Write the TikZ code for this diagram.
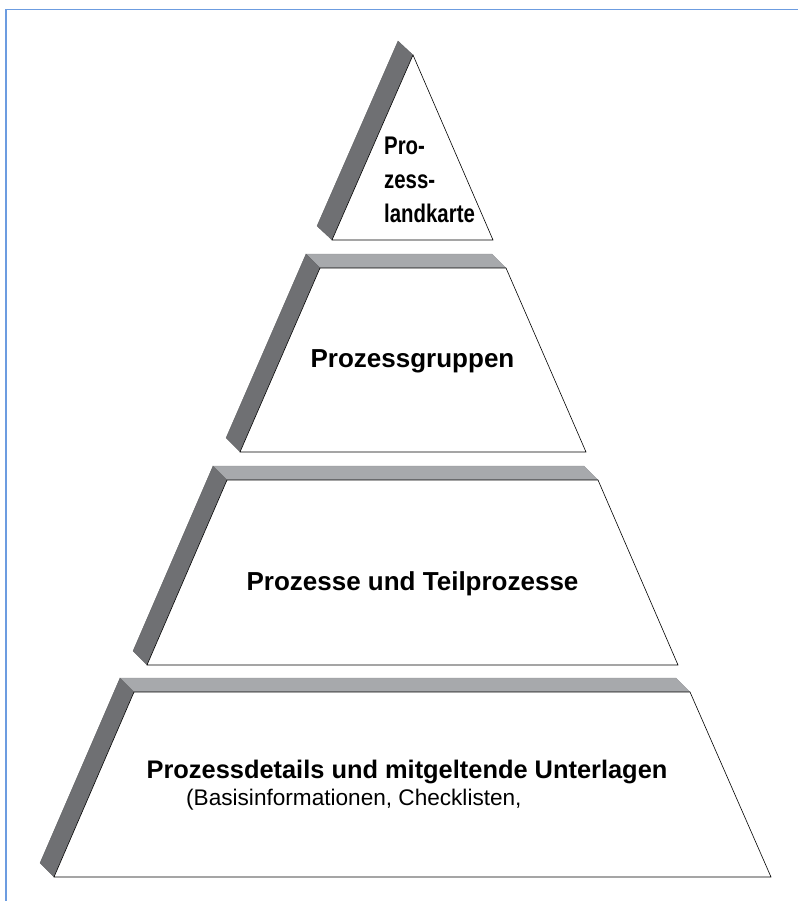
\documentclass[tikz,border=0pt]{standalone}
\usepackage{fontspec}
\setmainfont{Liberation Sans}
\newfontfamily\narrowsans[FakeStretch=0.8]{Liberation Sans}
\definecolor{framebl}{HTML}{6C9CE0}
\definecolor{bandtop}{HTML}{A7A9AC}
\definecolor{bandside}{HTML}{6F7073}
\begin{document}
\begin{tikzpicture}[x=1pt,y=-1pt,
  face/.style={draw=black, line width=0.6pt, fill=white, line join=miter},
  sideband/.style={fill=bandside, draw=bandside!80!black, line width=0.3pt},
  topband/.style={fill=bandtop, draw=bandtop!85!black, line width=0.3pt},
  title/.style={font=\fontsize{26}{30}\selectfont\bfseries, inner sep=0pt},
  subtitle/.style={font=\fontsize{22.6}{27}\selectfont, inner sep=0pt},
  frameline/.style={draw=framebl, line width=1.5pt}
]
\useasboundingbox (0,0) rectangle (798,901);

% page frame (left and top edges)
\draw[frameline] (6,901) -- (6,9.5) -- (798,9.5);

% level 1: triangle
\coordinate (a1) at (413,55);
\coordinate (l1) at (332,240);
\coordinate (r1) at (493,240);
\fill[sideband] (a1) -- (398,41) -- (317,226) -- (l1) -- cycle;
\draw[face] (a1) -- (r1) -- (l1) -- cycle;
\node[anchor=north west, align=left, inner sep=0pt,
      font=\narrowsans\fontsize{25.5}{34}\selectfont\bfseries] (t1) at (384,137)
  {Pro-\\zess-\\landkarte};

% level 2
\coordinate (tl2) at (320,268);
\coordinate (tr2) at (506,268);
\coordinate (bl2) at (240,452);
\coordinate (br2) at (586,452);
\filldraw[topband] (306,254) -- (492,254) -- (tr2) -- (tl2) -- cycle;
\filldraw[sideband] (306,254) -- (tl2) -- (bl2) -- (226,438) -- cycle;
\draw[face] (tl2) -- (tr2) -- (br2) -- (bl2) -- cycle;
\node[title] (t2) at (412.5,361) {Prozessgruppen};

% level 3
\coordinate (tl3) at (227,480);
\coordinate (tr3) at (598,480);
\coordinate (bl3) at (147,665);
\coordinate (br3) at (678,665);
\filldraw[topband] (213,466) -- (584,466) -- (tr3) -- (tl3) -- cycle;
\filldraw[sideband] (213,466) -- (tl3) -- (bl3) -- (133,651) -- cycle;
\draw[face] (tl3) -- (tr3) -- (br3) -- (bl3) -- cycle;
\node[title] (t3) at (412.5,584) {Prozesse und Teilprozesse};

% level 4
\coordinate (tl4) at (134,692);
\coordinate (tr4) at (690,692);
\coordinate (bl4) at (54,877);
\coordinate (br4) at (771,877);
\filldraw[topband] (120,678) -- (676,678) -- (tr4) -- (tl4) -- cycle;
\filldraw[sideband] (120,678) -- (tl4) -- (bl4) -- (40,863) -- cycle;
\draw[face] (tl4) -- (tr4) -- (br4) -- (bl4) -- cycle;
\node[title, font=\fontsize{25.4}{30}\selectfont\bfseries] (t4) at (407,771.5)
  {Prozessdetails und mitgeltende Unterlagen};
\node[subtitle, anchor=west] (s4) at (186,800) {(Basisinformationen, Checklisten,};
\end{tikzpicture}
\end{document}
